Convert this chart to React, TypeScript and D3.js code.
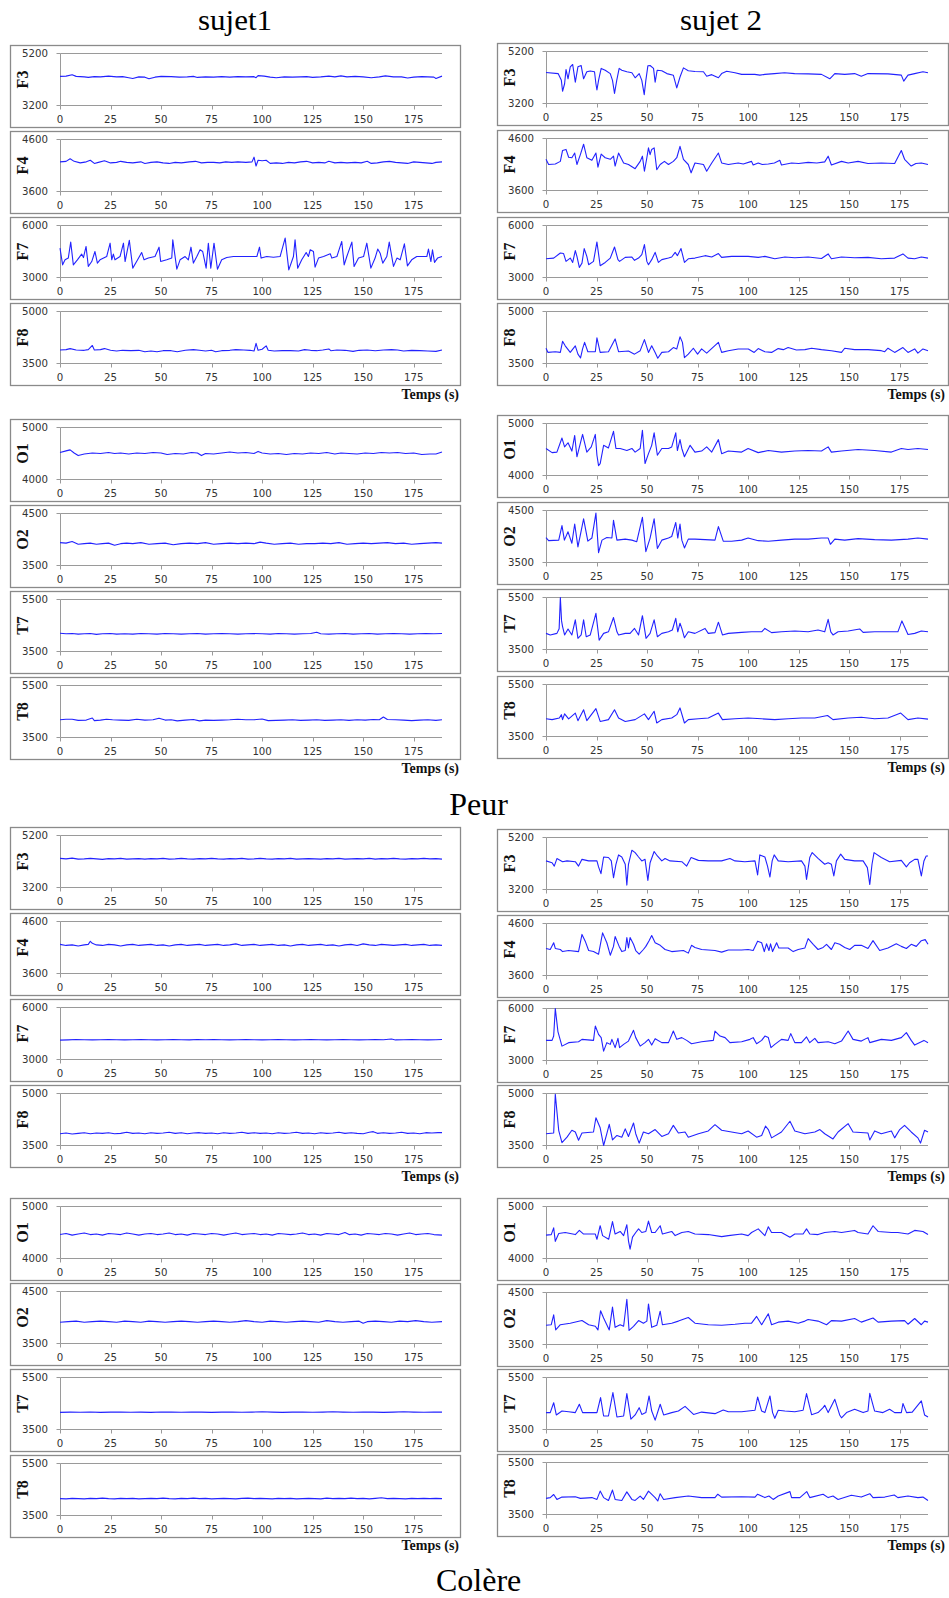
import React from 'react';
import * as d3 from 'd3';

type P = [number, number];

// ---------- shared axis data ----------
const electrodes = ['F3', 'F4', 'F7', 'F8', 'O1', 'O2', 'T7', 'T8'];
const yMin = [3200, 3600, 3000, 3500, 4000, 3500, 3500, 3500];
const yMax = [5200, 4600, 6000, 5000, 5000, 4500, 5500, 5500];
const xTicks = [0, 25, 50, 75, 100, 125, 150, 175];
const xMax = 189;
const subjectTitles = ['sujet1', 'sujet 2'];
const sectionTitles = ['Peur', 'Colère'];
const xAxisTitle = 'Temps (s)';

// ---------- Peur, sujet1 ----------
const peurS1F3: P[] = [[0,4320],[3,4330],[6,4380],[8,4320],[12,4300],[14,4280],[17,4310],[20,4300],[24,4330],[28,4300],[31,4310],[34,4270],[36,4240],[39,4300],[42,4290],[44,4230],[47,4290],[50,4320],[55,4310],[59,4290],[63,4300],[66,4320],[68,4280],[72,4300],[76,4290],[80,4310],[84,4290],[88,4310],[92,4300],[96,4310],[97,4270],[98,4350],[101,4330],[104,4290],[107,4270],[111,4300],[115,4290],[119,4300],[122,4310],[125,4280],[129,4300],[133,4330],[136,4300],[139,4340],[142,4300],[146,4320],[150,4300],[154,4270],[158,4300],[161,4340],[165,4300],[169,4300],[172,4260],[175,4290],[179,4310],[182,4300],[185,4290],[186,4240],[189,4330]];
const peurS1F4: P[] = [[0,4170],[3,4180],[5,4230],[7,4180],[10,4150],[13,4170],[15,4200],[17,4140],[19,4160],[22,4190],[25,4150],[28,4160],[30,4180],[33,4160],[36,4150],[40,4170],[42,4140],[45,4160],[48,4170],[51,4150],[54,4140],[57,4160],[60,4150],[64,4170],[67,4180],[70,4150],[73,4160],[76,4160],[79,4150],[82,4170],[85,4160],[88,4170],[92,4160],[95,4170],[96,4260],[97,4090],[98,4200],[100,4190],[102,4200],[104,4140],[107,4150],[110,4140],[113,4160],[116,4150],[119,4170],[122,4180],[125,4150],[128,4160],[131,4150],[133,4180],[136,4150],[139,4160],[142,4150],[146,4160],[149,4150],[152,4180],[154,4140],[157,4150],[160,4170],[163,4180],[166,4160],[169,4150],[172,4140],[175,4170],[178,4160],[181,4150],[184,4140],[186,4160],[189,4170]];
const peurS1F7: P[] = [[0,4690],[1.3,3730],[2.5,4020],[4.1,4120],[5.3,5040],[6.6,3730],[8.6,4020],[10.7,4350],[11.6,4150],[12.9,4790],[14,3640],[15.7,3920],[17.3,4500],[18.5,3830],[19.8,4020],[23.1,4210],[24.8,4980],[25.6,4020],[26.4,4350],[27.2,4020],[29.7,4210],[31.4,4980],[32.2,3920],[34.3,5140],[36,3540],[37.9,3920],[40.4,4440],[41.6,4020],[43.7,4120],[47,4210],[49,4750],[49.8,3920],[52.8,4020],[55.3,4120],[55.8,5170],[57.8,3480],[59.4,4020],[61.9,4210],[63.5,4020],[64.8,4750],[66,3830],[67.7,4210],[69.3,4600],[70.6,4500],[72.3,3540],[73.4,4980],[74.6,3540],[76.2,4980],[77.9,3480],[80,4020],[82.5,4150],[85.8,4210],[97.4,4210],[98.7,4750],[99.5,4120],[102.3,4210],[105.6,4170],[108.9,4210],[111.4,5270],[113.2,3440],[115.5,4210],[116.3,5170],[117.6,3540],[119.6,4020],[121.8,4440],[122.9,4210],[123.8,4600],[125.4,4500],[126.2,3600],[127.9,4120],[130.4,4210],[133.7,4370],[134.5,4120],[137,4210],[139.4,5080],[140.6,3730],[141.9,4210],[144.4,5040],[145.5,3640],[147.7,4120],[150.2,4210],[151.8,4980],[153.8,3540],[155.9,4120],[157.2,4640],[158.4,4400],[159.7,3830],[161.7,4210],[162.9,5040],[165,3640],[166.7,4120],[168.3,4020],[170.4,4940],[171.9,3670],[174,4020],[176.5,4210],[181.5,4210],[182.3,4640],[183.5,3920],[184.3,4600],[185.3,3870],[186.8,4120],[189,4210]];
const peurS1F8: P[] = [[0,3890],[3,3900],[5,3930],[8,3890],[12,3880],[14,3900],[16,4020],[17,3890],[20,3900],[22,3930],[25,3880],[28,3860],[31,3880],[35,3870],[39,3880],[42,3840],[45,3860],[48,3840],[51,3870],[55,3870],[58,3840],[62,3880],[66,3900],[69,3880],[72,3860],[75,3880],[77,3840],[80,3870],[84,3880],[87,3900],[91,3890],[94,3880],[96,3860],[97,4080],[98,3880],[100,3910],[102,4010],[103,3880],[106,3860],[110,3870],[114,3870],[118,3860],[121,3900],[124,3880],[127,3870],[130,3890],[133,3920],[134,3870],[137,3890],[141,3880],[145,3850],[148,3880],[152,3890],[156,3870],[160,3890],[164,3900],[167,3890],[170,3860],[174,3880],[178,3870],[182,3860],[186,3850],[189,3890]];
const peurS1O1: P[] = [[0,4520],[3,4550],[5,4570],[7,4510],[9,4460],[12,4490],[16,4510],[20,4500],[24,4520],[27,4500],[30,4510],[34,4490],[38,4510],[42,4500],[46,4520],[50,4510],[53,4480],[57,4500],[61,4490],[65,4520],[68,4510],[70,4460],[72,4500],[76,4490],[80,4510],[84,4530],[88,4510],[92,4520],[96,4500],[98,4540],[100,4510],[104,4490],[108,4500],[112,4480],[116,4500],[120,4490],[124,4510],[128,4500],[132,4520],[136,4490],[139,4510],[143,4500],[147,4490],[151,4510],[155,4500],[159,4520],[163,4510],[167,4520],[171,4500],[175,4510],[179,4480],[183,4490],[186,4490],[189,4530]];
const peurS1O2: P[] = [[0,3940],[3,3930],[6,3960],[9,3910],[12,3920],[15,3930],[18,3910],[21,3920],[24,3930],[27,3890],[30,3920],[33,3930],[36,3920],[40,3940],[44,3910],[48,3920],[52,3930],[56,3900],[60,3920],[64,3930],[68,3920],[72,3940],[76,3910],[80,3920],[84,3930],[88,3920],[92,3930],[96,3920],[99,3950],[102,3930],[106,3910],[110,3920],[114,3930],[118,3910],[122,3920],[126,3920],[130,3930],[134,3920],[138,3940],[142,3910],[146,3920],[150,3930],[154,3920],[158,3930],[162,3940],[166,3920],[170,3930],[174,3910],[178,3920],[182,3930],[186,3940],[189,3930]];
const peurS1T7: P[] = [[0,4200],[3,4180],[6,4190],[9,4170],[12,4180],[15,4190],[18,4160],[21,4180],[25,4190],[28,4170],[32,4180],[36,4170],[40,4190],[44,4180],[48,4170],[52,4190],[56,4180],[60,4170],[64,4180],[68,4190],[72,4170],[76,4180],[80,4190],[84,4180],[88,4170],[92,4180],[96,4190],[100,4180],[104,4170],[108,4190],[112,4180],[116,4170],[120,4180],[124,4190],[127,4240],[129,4180],[133,4170],[137,4180],[141,4190],[145,4170],[149,4180],[153,4190],[157,4170],[161,4180],[165,4190],[169,4180],[173,4170],[177,4180],[181,4190],[185,4180],[189,4190]];
const peurS1T8: P[] = [[0,4180],[3,4200],[6,4200],[9,4160],[13,4170],[16,4250],[17,4150],[20,4170],[23,4200],[26,4180],[30,4170],[34,4160],[38,4200],[42,4170],[46,4180],[49,4240],[52,4170],[55,4180],[58,4140],[62,4170],[66,4190],[69,4140],[72,4170],[76,4160],[80,4170],[84,4180],[88,4200],[92,4180],[96,4180],[100,4210],[103,4150],[107,4160],[111,4170],[115,4180],[119,4160],[123,4170],[127,4180],[131,4160],[135,4170],[139,4180],[143,4160],[147,4180],[151,4170],[155,4190],[158,4180],[160,4290],[162,4190],[166,4180],[170,4170],[174,4150],[178,4170],[182,4180],[186,4160],[189,4180]];

// ---------- Peur, sujet 2 ----------
const peurS2F3: P[] = [[0,4390],[6,4350],[7.6,4090],[8.2,3670],[9.2,3960],[9.9,4510],[10.9,4150],[12,4610],[13.2,4700],[14.5,4020],[15.8,4610],[17.4,4660],[18.6,4150],[20.2,4420],[21.9,4450],[24,4420],[24.7,3960],[25.2,3720],[26,4090],[27.3,4550],[29.3,4480],[31.8,4350],[32.9,4090],[33.9,3590],[35,4090],[36.2,4550],[37.5,4480],[40,4420],[42.5,4380],[44.1,4190],[46.1,4350],[47.4,4090],[48.6,3540],[49.4,4090],[50.4,4650],[51.5,4660],[53.2,4550],[54,4020],[55,4480],[57.3,4460],[59.8,4350],[63,4290],[64.7,3800],[66.3,4220],[68,4570],[70.4,4460],[73.7,4430],[77.9,4420],[79.5,4250],[82,4310],[85.3,4190],[86.9,4350],[89.4,4440],[93.5,4380],[96.8,4320],[103.3,4320],[105.8,4290],[108.3,4320],[113,4350],[118,4380],[123,4350],[129.7,4340],[136.3,4320],[140.4,4150],[142.9,4350],[147.8,4320],[152.7,4350],[156,4250],[159.3,4350],[169.2,4340],[175.8,4290],[177,4060],[179.1,4290],[182.4,4350],[186.5,4420],[189,4380]];
const peurS2F4: P[] = [[0,4200],[1.3,4100],[4.6,4110],[7.1,4160],[8.2,4370],[9.9,4390],[11.2,4240],[12.8,4230],[14.2,4320],[15.3,4100],[17,4290],[18.6,4490],[20.2,4230],[22.7,4180],[24.7,4320],[25.7,4050],[27.3,4300],[29.3,4230],[31.8,4200],[33.4,4260],[34.2,4070],[35.9,4320],[38.4,4130],[40.8,4100],[44.1,4020],[46.6,4160],[47.7,4260],[48.7,3970],[49.9,4230],[50.7,4420],[51.5,4290],[52.3,4390],[53.5,4420],[54.8,4000],[56.5,4100],[58.6,4160],[60.6,4100],[63,4160],[64.7,4230],[66.3,4450],[68,4200],[70.4,4100],[71.8,3940],[73.7,4130],[77.9,4100],[79.5,3970],[82,4130],[85.3,4320],[86.9,4130],[90.2,4100],[95.1,4130],[97.6,4110],[101.7,4160],[102.5,4090],[105,4130],[107,4100],[110,4110],[113,4130],[115.7,4180],[116.5,4090],[121.5,4130],[125,4120],[129.7,4140],[134,4130],[137.9,4150],[139.6,4260],[141.2,4090],[146.2,4160],[149.5,4130],[154.4,4160],[159.3,4120],[165.9,4130],[172.5,4120],[175.8,4370],[177.4,4200],[180.7,4070],[183,4120],[185.7,4130],[189,4100]];
const peurS2F7: P[] = [[0,4080],[3.8,4120],[7.1,4410],[8.7,4380],[9.9,3930],[12,4120],[13.2,3870],[14.5,4550],[15.3,4220],[16.5,3580],[17.8,3830],[18.9,4670],[20.2,4220],[21.1,3740],[23.5,3930],[25.2,5050],[26.8,3680],[29.3,3870],[31.8,4120],[33.9,4760],[35.6,4030],[36.4,3930],[39.2,4160],[42.5,4180],[43.8,3990],[45.8,4120],[47.4,4320],[48.7,4900],[49.9,3930],[50.7,3740],[52.3,4030],[54,4450],[55.6,3870],[57.3,4030],[60.6,4120],[62.2,4180],[63.9,4450],[65,4260],[66.8,4670],[68.5,3870],[70.4,4080],[73.7,4120],[78.7,4260],[82,4180],[85.3,4380],[86.9,4160],[91.8,4220],[100,4220],[105,4160],[108.3,4220],[113.2,4080],[118.2,4180],[123.1,4140],[129.7,4180],[136.3,4100],[139.6,4360],[141.2,4080],[146.2,4180],[152.7,4140],[159.3,4160],[165.9,4080],[172.5,4120],[176.6,4360],[179.1,4120],[182.4,4080],[185.7,4180],[189,4120]];
const peurS2F8: P[] = [[0,3940],[1,3820],[4.6,3840],[7.1,3820],[8.2,4140],[9.5,4010],[12,3820],[14.5,4010],[15.8,3770],[17.1,3660],[18.1,3920],[19.1,4110],[20.7,3840],[24.4,3840],[25.2,4240],[26.8,3820],[30.9,3840],[34.2,4210],[35.9,3840],[40.8,3860],[43.8,3770],[46.6,3870],[48.7,4190],[50.7,3820],[52.3,4010],[54,3820],[55.3,3650],[57.3,3820],[60.6,3840],[63,3960],[64.7,3920],[66.3,4270],[67.5,4110],[68.5,3670],[70.4,3770],[72.9,3940],[75,3770],[77,3920],[79.5,3800],[85.3,4110],[86.9,3820],[90.2,3870],[95.1,3920],[100.1,3920],[103,3820],[105,3930],[108.3,3840],[111.6,3820],[114.9,3930],[117.4,3900],[119.8,3960],[123.9,3890],[128.1,3900],[131.4,3940],[136.3,3900],[141.2,3870],[146.2,3820],[147.8,3940],[152.7,3900],[159.3,3900],[165.9,3870],[167.6,3840],[169.2,3940],[172.5,3820],[176.6,3960],[179.1,3820],[182.4,3920],[184,3800],[186.5,3920],[189,3870]];
const peurS2O1: P[] = [[0,4520],[3,4440],[5.4,4450],[7.9,4720],[9.2,4550],[10.9,4630],[12.8,4470],[14.2,4770],[15.3,4360],[18.1,4790],[20.2,4450],[22.4,4550],[24.4,4790],[25.2,4390],[26,4190],[26.8,4230],[28.5,4580],[30.9,4530],[33.4,4850],[34.6,4520],[36.7,4520],[40,4480],[42.5,4520],[44.1,4450],[46.6,4520],[47.7,4870],[49,4230],[50.7,4420],[52.3,4580],[53.5,4820],[55.1,4390],[57.3,4520],[60.6,4520],[62.2,4550],[64.2,4820],[65,4480],[66.3,4690],[67.2,4520],[68.5,4360],[71.3,4580],[73.7,4450],[77,4470],[79.5,4550],[82,4450],[85.3,4690],[86.9,4420],[90.2,4470],[96.8,4450],[100,4520],[105,4440],[110,4480],[116.5,4450],[123.1,4470],[129.7,4480],[136.3,4470],[139.6,4550],[141.2,4450],[146.2,4470],[154.4,4500],[162.6,4480],[170.9,4450],[175.8,4520],[179.1,4500],[184,4520],[189,4500]];
const peurS2O2: P[] = [[0,3980],[1.3,3920],[6.3,3930],[7.9,4210],[9.1,3930],[10.9,4090],[12.8,3870],[14.2,4240],[15.8,3800],[18.6,4340],[20.7,3910],[22.7,3970],[24.7,4450],[26,3690],[27.7,3930],[30.1,3980],[32.6,3970],[33.4,4310],[35.1,3930],[39.2,3950],[42.5,3930],[44.9,3900],[47.7,4370],[49.4,3710],[51.5,3970],[53.5,4340],[55.1,3770],[57.3,3930],[60.6,3970],[62.2,4000],[64.2,4270],[65.2,3970],[66.3,4240],[67.2,3930],[68.5,3780],[70.4,3950],[73.7,3950],[78.7,3940],[83.6,3930],[85.3,4190],[87.7,3910],[91.8,3910],[96.8,3930],[100,3970],[105,3920],[110,3910],[116.5,3930],[123.1,3950],[129.7,3950],[136.3,3970],[139.6,3970],[140.7,3850],[142.9,3950],[147.8,3930],[154.4,3960],[162.6,3940],[170.9,3930],[179.1,3950],[184,3970],[189,3950]];
const peurS2T7: P[] = [[0,4120],[2.1,4060],[5.4,4120],[6.5,4300],[7.1,5500],[7.7,4600],[8.2,4380],[9.2,4060],[10.9,4290],[12.8,4060],[14.5,4640],[15.8,3930],[17.4,4060],[18.6,4640],[19.9,3990],[21.9,4060],[24.7,4890],[26.3,3860],[28.5,4120],[30.9,4180],[33.4,4730],[35.1,4180],[35.9,4060],[39.2,4120],[41.6,4120],[43.8,4310],[45.8,4060],[47.7,4800],[49.5,3930],[51.5,4120],[53.5,4640],[55.1,3990],[57.3,4120],[60.6,4180],[62.5,4250],[64.2,4700],[65.2,4180],[66.3,4510],[67.2,4310],[68.5,3950],[70.4,4180],[73.7,4120],[78.7,4310],[80.3,4120],[83.6,4150],[85.3,4550],[87.3,4060],[90.2,4120],[96.8,4160],[101.7,4180],[106.7,4180],[108.3,4310],[111.6,4150],[116.5,4180],[123.1,4210],[129.7,4180],[134.6,4250],[137.9,4180],[139.6,4660],[140.9,4180],[142,4060],[144.5,4180],[149.5,4210],[155.2,4290],[156.9,4160],[162.6,4180],[169.2,4180],[174.1,4180],[176.1,4600],[179.1,4080],[182.4,4120],[185.7,4210],[189,4180]];
const peurS2T8: P[] = [[0,4180],[3,4150],[6.6,4210],[7.6,4340],[8.2,4150],[9.2,4370],[11.2,4180],[14.5,4400],[15.8,4110],[18.6,4530],[20.2,4110],[24.7,4570],[26.8,4080],[30.9,4150],[33.9,4530],[35.9,4210],[39.2,4080],[44.1,4150],[48.7,4370],[50.7,4150],[53.5,4470],[54.8,4020],[57.3,4150],[62.2,4210],[64.7,4340],[66.3,4600],[68.5,4020],[70.4,4150],[75.4,4180],[80.3,4210],[85.3,4400],[87.3,4150],[93.5,4180],[100,4210],[106.7,4180],[113.2,4150],[119.8,4180],[126.4,4210],[133,4210],[139.3,4310],[142,4150],[149.5,4210],[156,4240],[162.6,4180],[169.2,4210],[175.5,4400],[179.1,4150],[184,4210],[189,4170]];

// ---------- Colère, sujet1 ----------
const colereS1F3: P[] = [[0,4320],[3,4300],[6,4330],[9,4290],[12,4300],[15,4320],[18,4300],[21,4280],[24,4310],[27,4300],[30,4320],[33,4290],[36,4300],[39,4310],[42,4290],[45,4310],[48,4300],[51,4320],[54,4290],[57,4300],[60,4320],[63,4300],[66,4290],[69,4310],[72,4300],[75,4320],[78,4300],[81,4290],[84,4310],[87,4300],[90,4320],[93,4290],[96,4300],[99,4320],[102,4300],[105,4290],[108,4310],[111,4300],[114,4320],[117,4290],[120,4300],[123,4310],[126,4300],[129,4290],[132,4310],[135,4300],[138,4320],[141,4290],[144,4300],[147,4310],[150,4300],[153,4320],[156,4290],[159,4310],[162,4300],[165,4320],[168,4300],[171,4290],[174,4310],[177,4300],[180,4320],[183,4300],[186,4310],[189,4290]];
const colereS1F4: P[] = [[0,4160],[3,4140],[6,4150],[9,4130],[12,4150],[14,4160],[15,4220],[16,4180],[18,4150],[21,4140],[24,4160],[27,4150],[30,4130],[33,4150],[36,4160],[39,4140],[42,4150],[45,4160],[48,4140],[51,4150],[54,4130],[57,4150],[60,4160],[63,4140],[66,4150],[69,4160],[72,4140],[75,4150],[78,4160],[81,4140],[84,4150],[87,4170],[90,4140],[93,4150],[96,4160],[99,4140],[102,4150],[105,4160],[108,4140],[111,4150],[114,4130],[117,4150],[120,4160],[123,4140],[126,4150],[129,4160],[132,4140],[135,4150],[138,4130],[141,4150],[144,4160],[147,4140],[150,4170],[153,4150],[156,4140],[159,4160],[162,4150],[165,4140],[168,4150],[171,4160],[174,4140],[177,4150],[180,4160],[183,4140],[186,4150],[189,4140]];
const colereS1F7: P[] = [[0,4120],[4,4130],[8,4150],[12,4140],[16,4130],[20,4140],[24,4150],[28,4140],[32,4130],[36,4140],[40,4150],[44,4140],[48,4130],[52,4140],[56,4150],[60,4140],[64,4130],[68,4150],[72,4140],[76,4150],[80,4140],[84,4130],[88,4140],[92,4150],[96,4140],[100,4130],[104,4140],[108,4150],[112,4140],[116,4130],[120,4140],[124,4150],[128,4140],[132,4130],[136,4140],[140,4150],[144,4140],[148,4130],[152,4140],[156,4150],[160,4140],[164,4180],[166,4130],[170,4140],[174,4150],[178,4140],[182,4130],[186,4140],[189,4150]];
const colereS1F8: P[] = [[0,3840],[3,3860],[6,3830],[9,3850],[12,3870],[15,3840],[18,3860],[21,3850],[24,3870],[27,3840],[30,3850],[33,3880],[36,3850],[39,3860],[42,3840],[45,3870],[48,3850],[51,3860],[54,3880],[57,3850],[60,3870],[63,3840],[66,3860],[69,3870],[72,3850],[75,3860],[78,3840],[81,3870],[84,3850],[87,3860],[90,3880],[93,3850],[96,3870],[99,3850],[102,3860],[105,3840],[108,3870],[111,3850],[114,3860],[117,3880],[120,3850],[123,3860],[126,3840],[129,3870],[132,3850],[135,3860],[138,3880],[141,3850],[144,3870],[147,3850],[150,3840],[153,3880],[155,3900],[157,3850],[160,3870],[163,3850],[166,3860],[169,3880],[172,3850],[175,3860],[178,3840],[181,3870],[184,3860],[187,3870],[189,3870]];
const colereS1O1: P[] = [[0,4460],[3,4480],[6,4450],[9,4470],[12,4490],[15,4460],[18,4470],[21,4450],[24,4480],[27,4470],[30,4460],[33,4490],[36,4470],[39,4450],[42,4470],[45,4480],[48,4460],[51,4470],[54,4490],[57,4460],[60,4470],[63,4450],[66,4480],[69,4470],[72,4460],[75,4480],[78,4470],[81,4450],[84,4470],[87,4490],[90,4460],[93,4470],[96,4480],[99,4460],[102,4470],[105,4450],[108,4480],[111,4470],[114,4460],[117,4470],[120,4490],[123,4460],[126,4470],[129,4450],[132,4480],[135,4470],[138,4460],[141,4500],[143,4460],[146,4470],[149,4450],[152,4480],[155,4470],[158,4460],[161,4480],[164,4470],[167,4450],[170,4470],[173,4490],[176,4460],[179,4470],[182,4480],[185,4460],[189,4450]];
const colereS1O2: P[] = [[0,3910],[4,3920],[8,3930],[12,3910],[16,3920],[20,3930],[24,3920],[28,3910],[32,3930],[36,3920],[40,3910],[44,3930],[48,3920],[52,3910],[56,3920],[60,3930],[64,3920],[68,3910],[72,3920],[76,3930],[80,3920],[84,3910],[88,3920],[92,3940],[96,3920],[100,3910],[104,3930],[108,3920],[112,3910],[116,3920],[120,3930],[124,3920],[128,3910],[132,3940],[136,3920],[140,3910],[144,3920],[148,3930],[150,3890],[152,3920],[156,3930],[160,3920],[164,3910],[168,3930],[172,3920],[176,3940],[180,3920],[184,3910],[189,3920]];
const colereS1T7: P[] = [[0,4160],[5,4170],[10,4165],[15,4175],[20,4160],[25,4170],[30,4175],[35,4165],[40,4170],[45,4160],[50,4175],[55,4170],[60,4165],[65,4175],[70,4170],[75,4160],[80,4170],[85,4175],[90,4165],[95,4170],[100,4180],[105,4170],[110,4160],[115,4170],[120,4175],[125,4165],[130,4170],[135,4180],[140,4170],[145,4165],[150,4175],[155,4170],[160,4160],[165,4170],[170,4180],[175,4170],[180,4165],[185,4175],[189,4170]];
const colereS1T8: P[] = [[0,4150],[3,4140],[6,4160],[9,4150],[12,4140],[15,4160],[18,4150],[21,4170],[24,4150],[27,4140],[30,4160],[33,4150],[36,4160],[39,4140],[42,4150],[45,4160],[48,4150],[51,4170],[54,4150],[57,4140],[60,4160],[63,4150],[66,4170],[69,4150],[72,4160],[75,4140],[78,4150],[81,4160],[84,4150],[87,4140],[90,4160],[93,4170],[96,4150],[99,4160],[102,4150],[105,4140],[108,4160],[111,4150],[114,4160],[117,4140],[120,4150],[123,4160],[126,4150],[129,4140],[132,4170],[135,4150],[138,4160],[141,4150],[144,4170],[147,4150],[150,4160],[153,4140],[156,4160],[159,4180],[162,4150],[165,4160],[168,4150],[171,4140],[174,4160],[177,4150],[180,4160],[183,4150],[186,4160],[189,4150]];

// ---------- Colère, sujet 2 ----------
const colereS2F3: P[] = [[0,4300],[3,4230],[4.1,4100],[5.4,4390],[8.2,4270],[10.4,4300],[14.5,4270],[16.1,4100],[17.8,4360],[21.1,4300],[25.2,4300],[26,4070],[27.2,3810],[28.5,4450],[30.9,4430],[32.3,4300],[33.4,3650],[34.6,4170],[35.9,4530],[37.5,4450],[39.2,4170],[40,3370],[40.8,4170],[42.5,4710],[44.1,4620],[45.8,4450],[47.4,4300],[49,4360],[50.4,3550],[51.5,4230],[53.5,4660],[55.1,4490],[57.3,4300],[58.9,4390],[61.4,4300],[67.2,4270],[69.6,4100],[71.8,4430],[75.4,4320],[80.3,4300],[86.9,4300],[91,4390],[93.5,4300],[98.4,4270],[103.4,4300],[104.7,3760],[105.8,4530],[108.3,4450],[109.6,4100],[110.8,3680],[111.9,4300],[112.9,4530],[114.9,4300],[119.8,4270],[126.4,4300],[128.1,4100],[128.9,3590],[130.5,4430],[131.7,4620],[134.6,4400],[137.9,4170],[139.6,4230],[141.2,4170],[142.4,3720],[143.7,4300],[145.8,4560],[147.8,4360],[152.7,4300],[156.9,4300],[159,4040],[160.2,3390],[161.3,4170],[162.3,4620],[165.9,4430],[170,4270],[175.8,4320],[178.3,4070],[179.9,4230],[182.4,4360],[184,4360],[185.7,3720],[187,4300],[188.1,4490],[189,4490]];
const colereS2F4: P[] = [[0,4120],[2.1,4100],[3.8,4230],[4.6,4120],[7.1,4100],[8.2,4060],[11.2,4080],[16.1,4060],[17.8,4390],[19.4,4260],[21.1,4080],[23.5,4060],[26,4010],[28,4420],[30.1,4230],[31.8,3990],[33.4,4160],[34.2,4350],[36.2,4160],[37.5,4060],[39.2,4080],[40,4330],[40.8,4130],[41.6,4330],[43.3,4200],[44.4,4080],[46.1,4010],[48.2,4100],[49.4,4160],[51,4270],[52.3,4370],[54,4230],[56.5,4180],[58.9,4100],[62.2,4060],[68,4080],[70.4,4030],[72,4180],[73.7,4140],[77,4100],[83.6,4080],[86.9,4050],[90.2,4090],[96.8,4090],[100,4100],[102.5,4080],[104.7,4260],[106.7,4230],[108,4060],[109.1,4210],[110.3,4080],[111.1,4210],[112.1,4060],[114.1,4230],[115.2,4130],[119.8,4130],[122.3,4060],[124.8,4100],[128.1,4130],[129.7,4310],[132.2,4200],[134.6,4100],[137.1,4140],[138.8,4200],[141.2,4100],[142.9,4230],[145.3,4200],[147.8,4140],[150.3,4100],[152.7,4180],[156,4180],[159.3,4120],[161.8,4270],[165.1,4080],[169.2,4130],[173.3,4210],[175.8,4160],[178.3,4120],[180.7,4200],[183.2,4160],[185.7,4270],[187.6,4290],[189,4200]];
const colereS2F7: P[] = [[0,4160],[3,4160],[3.8,4410],[4.6,6000],[5.9,4670],[7.9,3830],[11.2,4030],[16.1,4080],[17.8,4220],[23.5,4160],[24.4,4990],[26,4510],[27.3,4320],[28.5,3540],[30.1,4030],[31.8,3930],[32.6,4220],[34.2,3740],[35.6,4280],[36.4,3740],[38.4,3930],[40.8,4120],[43.3,4740],[44.4,4320],[46.6,3830],[49,4030],[50.7,4220],[52.3,3890],[54,4260],[57.3,4030],[60.6,4030],[63,4700],[64.7,4220],[67.2,4320],[69.6,4160],[72,3970],[77,4080],[82.8,4160],[83.6,4700],[86.1,4410],[88.6,4320],[91,4030],[96.8,4080],[100.9,4220],[102.5,4320],[104.2,3970],[106.7,4160],[108.3,4410],[110,4320],[111.3,3740],[113.2,3930],[116.5,4220],[119.8,4160],[121.1,4550],[123.1,4030],[126.4,4030],[128.9,4360],[130.5,4030],[133,4280],[134.6,4030],[139.6,4080],[142.9,3970],[146.2,4120],[149.5,4700],[151.9,4220],[156,4120],[159.3,4320],[160.2,4030],[165.9,4220],[170.9,4160],[175.8,4320],[178.3,4610],[180.7,4160],[182.4,3890],[185.7,4080],[187,4160],[189,4030]];
const colereS2F8: P[] = [[0,3840],[3.8,3860],[4.6,4980],[6.3,3930],[7.9,3580],[10.4,3740],[12.8,3940],[14.5,3890],[16.1,3650],[17.8,3860],[23.5,3890],[24.7,4300],[26.8,4010],[28.5,3500],[30.1,3840],[31.3,4110],[32.9,3660],[35.1,3790],[37.5,3740],[39.2,3980],[40.8,3760],[43.3,4150],[44.4,3840],[46.1,3570],[48.2,3890],[50.7,3840],[54,3960],[57.3,3760],[60.6,3840],[63,4080],[65.5,3860],[68.8,3890],[70.4,3740],[75.4,3840],[80.3,3920],[83.6,4100],[86.9,3940],[91.8,3890],[96.8,3840],[100,3920],[104.2,3740],[106.7,3790],[108.6,4060],[110,3960],[111.6,3720],[116.5,3890],[120.7,4200],[123.1,3920],[128.1,3840],[133,3890],[135.5,3960],[137.9,3840],[142,3690],[144.5,3890],[149.5,4130],[151.9,3890],[159.3,3860],[160.2,3660],[162.6,3920],[165.9,3840],[170.9,3920],[172.5,3720],[175,3960],[177.4,4080],[180.7,3890],[184,3720],[185.3,3570],[187.3,3940],[189,3890]];
const colereS2O1: P[] = [[0,4450],[2.6,4460],[3.8,4590],[4.6,4330],[6.3,4480],[9.5,4500],[14.5,4460],[16.5,4540],[18.6,4470],[24.4,4470],[25.2,4370],[26.8,4630],[28,4440],[31,4370],[32.9,4710],[34.2,4470],[36.7,4520],[38.4,4440],[40,4650],[40.8,4340],[41.6,4180],[42.8,4410],[44.4,4500],[45.8,4570],[47.4,4500],[49.4,4520],[50.7,4720],[52.3,4500],[54,4500],[56.5,4630],[57.6,4470],[62.2,4520],[63.9,4440],[67.2,4500],[70.4,4520],[73.7,4470],[80.3,4460],[86.9,4420],[90.2,4440],[96.8,4470],[100,4440],[101.7,4500],[105,4570],[108.3,4440],[110,4610],[111.6,4500],[116.5,4500],[120.7,4410],[123.1,4470],[127.2,4470],[128.9,4570],[130.5,4470],[134.6,4460],[137.9,4500],[142.9,4520],[146.2,4500],[152.7,4540],[154.4,4500],[159.3,4470],[161.8,4630],[164.3,4520],[170.9,4500],[174.1,4500],[179.1,4470],[182.4,4540],[186.5,4520],[189,4460]];
const colereS2O2: P[] = [[0,3870],[2.6,3880],[3.8,4070],[4.8,3780],[7.1,3880],[12,3910],[17.8,3960],[21.1,3880],[24.4,3850],[25.7,3780],[27,4150],[28.5,4010],[31.3,3780],[32.9,4220],[34.2,3830],[36.7,3880],[38.4,3850],[40,4370],[41.1,3770],[43.3,3850],[45.8,3960],[48.2,3910],[49.9,3950],[50.7,4280],[52.3,3830],[54.8,3870],[56.5,4140],[57.6,3880],[62.2,3910],[65.5,3950],[70.4,4020],[73.7,3910],[80.3,3880],[86.9,3870],[93.5,3890],[98.4,3910],[101.7,3910],[104.2,4040],[106.7,3880],[110,4090],[111.6,3880],[114.9,3930],[119.8,3950],[124.8,3910],[128.1,3950],[129.7,3980],[134.6,3950],[138.8,3880],[141.2,3960],[146.2,3950],[152.7,4000],[156,3930],[161.8,4010],[164.3,3930],[170.9,3950],[177.4,3960],[179.1,3890],[182.4,4000],[185.7,3880],[187.3,3950],[189,3930]];
const colereS2T7: P[] = [[0,4150],[2.1,4150],[3.8,4530],[5.1,4060],[7.9,4210],[11.2,4180],[14.5,4150],[16.5,4470],[18.1,4150],[25.2,4150],[27,4730],[28.5,4020],[30.9,4020],[33.1,4920],[35.1,3980],[38.4,4020],[40,4880],[42,3900],[44.1,4060],[46.1,4340],[47.4,4080],[49.4,4150],[51,4790],[52.3,4210],[54,3860],[56.5,4470],[58.2,4060],[62.2,4150],[65.5,4210],[68.8,4390],[73,4080],[77,4170],[83.6,4110],[87.7,4250],[90.2,4180],[96.8,4180],[103.4,4240],[104.7,4750],[106.7,4210],[108.3,4150],[110.8,4790],[112.1,4150],[113.2,3930],[114.9,4240],[118.2,4210],[123.1,4180],[127.2,4240],[128.9,4880],[131.4,4070],[134.6,4150],[137.1,4340],[137.9,4430],[139.6,4150],[142.9,4660],[145.3,4060],[146.2,3950],[148.7,4150],[152.7,4280],[156.9,4150],[159.3,4210],[160.2,4890],[162.6,4210],[166.7,4150],[170,4280],[172.5,4150],[175.8,4150],[176.6,4500],[178.4,4150],[181.2,4170],[185.7,4600],[187.3,4060],[189,3980]];
const colereS2T8: P[] = [[0,4120],[2.1,4150],[3.8,4270],[5.4,4080],[7.9,4170],[14.5,4180],[17,4120],[22.7,4150],[25.2,4080],[26.8,4400],[28.5,4150],[30.9,4040],[32.9,4440],[34.2,4080],[37.5,4040],[40,4370],[42.5,4080],[44.1,4040],[46.6,4210],[48.2,4080],[50.7,4400],[54,4150],[55.3,4020],[56.5,4300],[58.2,4080],[63.9,4150],[70.4,4210],[77,4150],[83.6,4150],[85,4280],[86.9,4170],[96.8,4180],[103.4,4170],[104.7,4280],[108.3,4150],[110.3,4210],[112.4,4080],[114.9,4210],[120.7,4380],[121.5,4150],[125.6,4150],[129,4380],[130.5,4150],[137.1,4280],[139.6,4150],[142,4210],[144.5,4080],[151.1,4240],[156,4170],[160.2,4300],[161.8,4150],[167.6,4170],[172.3,4250],[174.1,4150],[179.1,4210],[184,4150],[186.5,4170],[189,4040]];

const peurS1 = [peurS1F3, peurS1F4, peurS1F7, peurS1F8, peurS1O1, peurS1O2, peurS1T7, peurS1T8];
const peurS2 = [peurS2F3, peurS2F4, peurS2F7, peurS2F8, peurS2O1, peurS2O2, peurS2T7, peurS2T8];
const colereS1 = [colereS1F3, colereS1F4, colereS1F7, colereS1F8, colereS1O1, colereS1O2, colereS1T7, colereS1T8];
const colereS2 = [colereS2F3, colereS2F4, colereS2F7, colereS2F8, colereS2O1, colereS2O2, colereS2T7, colereS2T8];

// ---------- layout ----------
const W = 949;
const H = 1598;
const BOX_H = 82;
const PLOT_OFF = 8;
const PLOT_H = 52;
const cols = [
  { box: 10, w: 450, p0: 60, p1: 442, temps: 459 },
  { box: 497, w: 451, p0: 546, p1: 928, temps: 945 },
];
// [section][column] -> [topGroupA, pitchA, topGroupB, pitchB]
const groupLayout = [
  [[45, 86.1, 419, 86], [43.3, 86.7, 415.3, 87]],
  [[827, 86, 1197.7, 85.6], [829.3, 85.3, 1198.3, 85.3]],
];
const sectionData = [[peurS1, peurS2], [colereS1, colereS2]];
const sectionTitleY = [815, 1591];

const BLUE = '#2222ff';
const AXIS = '#9a9a9a';
const BORDER = '#8a8a8a';
const TICKFONT = '"DejaVu Sans", Verdana, sans-serif';
const SERIF = '"Liberation Serif", "Times New Roman", serif';

function Panel({ col, top, idx, data }: { col: number; top: number; idx: number; data: P[] }) {
  const c = cols[col];
  const pt = Math.round(top + PLOT_OFF) + 0.5;
  const pb = Math.round(top + PLOT_OFF + PLOT_H) + 0.5;
  const x = d3.scaleLinear().domain([0, xMax]).range([c.p0, c.p1]);
  const y = d3.scaleLinear().domain([yMin[idx], yMax[idx]]).range([pb, pt]);
  const line = d3.line<P>().x((d) => x(d[0])).y((d) => y(d[1]));
  const bt = Math.round(top) + 0.5;
  const ax = Math.round(c.p0) + 0.5;
  return (
    <g>
      <rect x={c.box + 0.5} y={bt} width={c.w} height={BOX_H} fill="#fff" stroke={BORDER} strokeWidth={1.3} />
      <line x1={ax} x2={c.p1} y1={pt} y2={pt} stroke={AXIS} strokeWidth={1} />
      <line x1={ax} x2={c.p1} y1={pb} y2={pb} stroke={AXIS} strokeWidth={1} />
      <line x1={ax} x2={ax} y1={pt} y2={pb} stroke={AXIS} strokeWidth={1} />
      <line x1={ax - 4} x2={ax} y1={pt} y2={pt} stroke={AXIS} strokeWidth={1} />
      <line x1={ax - 4} x2={ax} y1={pb} y2={pb} stroke={AXIS} strokeWidth={1} />
      {xTicks.map((t) => (
        <g key={t}>
          <line x1={Math.round(x(t)) + 0.5} x2={Math.round(x(t)) + 0.5} y1={pb} y2={pb + 4} stroke={AXIS} strokeWidth={1} />
          <text x={x(t)} y={pb + 17.5} textAnchor="middle" fontFamily={TICKFONT} fontSize={10.2} fill="#333">{t}</text>
        </g>
      ))}
      <text x={c.p0 - 12} y={pt + 3.6} textAnchor="end" fontFamily={TICKFONT} fontSize={10.2} fill="#333">{yMax[idx]}</text>
      <text x={c.p0 - 12} y={pb + 3.6} textAnchor="end" fontFamily={TICKFONT} fontSize={10.2} fill="#333">{yMin[idx]}</text>
      <text
        transform={`translate(${c.box + 18},${(pt + pb) / 2}) rotate(-90)`}
        textAnchor="middle"
        fontFamily={SERIF}
        fontWeight="bold"
        fontSize={16}
        fill="#111"
      >
        {electrodes[idx]}
      </text>
      <path d={line(data) || ''} fill="none" stroke={BLUE} strokeWidth={1.1} strokeLinejoin="round" />
    </g>
  );
}

export default function App() {
  const items: React.ReactNode[] = [];
  const temps: React.ReactNode[] = [];
  sectionData.forEach((sec, s) => {
    sec.forEach((colData, c) => {
      const [ta, pa, tb, pb] = groupLayout[s][c];
      colData.forEach((series, i) => {
        const top = i < 4 ? ta + i * pa : tb + (i - 4) * pb;
        items.push(<Panel key={`${s}-${c}-${i}`} col={c} top={top} idx={i} data={series} />);
        if (i === 3 || i === 7) {
          temps.push(
            <text key={`t-${s}-${c}-${i}`} x={cols[c].temps} y={top + 95.5} textAnchor="end" fontFamily={SERIF} fontWeight="bold" fontSize={14} fill="#111">
              {xAxisTitle}
            </text>
          );
        }
      });
    });
  });
  return (
    <svg width={W} height={H} style={{ position: 'absolute', left: 0, top: 0, display: 'block', background: '#fff' }}>
      <rect x={0} y={0} width={W} height={H} fill="#fff" />
      <text x={235} y={30} textAnchor="middle" fontFamily={SERIF} fontSize={29} textLength={74} lengthAdjust="spacingAndGlyphs" fill="#000">{subjectTitles[0]}</text>
      <text x={721} y={30} textAnchor="middle" fontFamily={SERIF} fontSize={29} textLength={82} lengthAdjust="spacingAndGlyphs" fill="#000">{subjectTitles[1]}</text>
      {items}
      {temps}
      <text x={478.6} y={sectionTitleY[0]} textAnchor="middle" fontFamily={SERIF} fontSize={32} fill="#000">{sectionTitles[0]}</text>
      <text x={478.6} y={sectionTitleY[1]} textAnchor="middle" fontFamily={SERIF} fontSize={32} fill="#000">{sectionTitles[1]}</text>
    </svg>
  );
}
